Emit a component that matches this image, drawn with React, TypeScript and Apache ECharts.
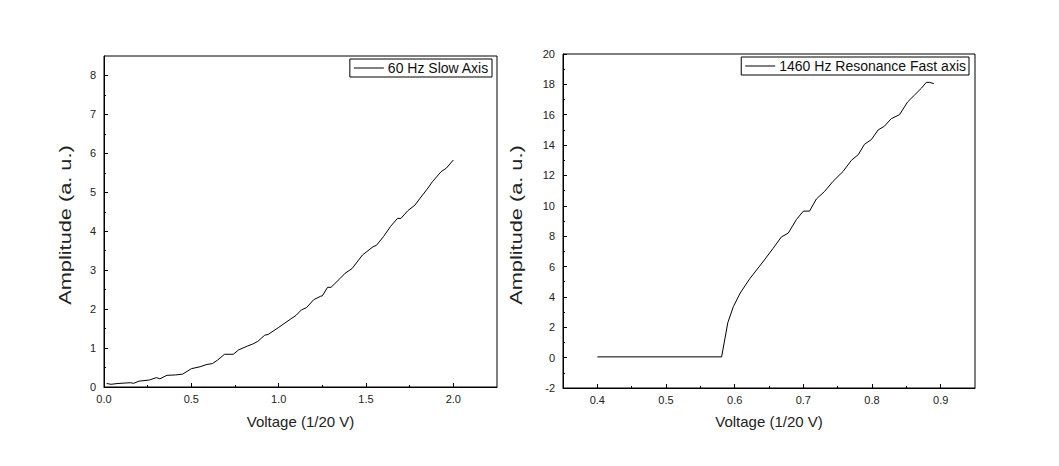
import React, { useEffect, useRef } from "react";
import * as echarts from "echarts";

const slowName = "60 Hz Slow Axis";
const fastName = "1460 Hz Resonance Fast axis";
const xTitle = "Voltage (1/20 V)";
const yTitle = "Amplitude (a. u.)";

const slowX = [0.015, 0.04, 0.08, 0.15, 0.17, 0.2, 0.26, 0.3, 0.32, 0.36, 0.41, 0.45, 0.5, 0.55, 0.59, 0.62, 0.65, 0.69, 0.74, 0.77, 0.82, 0.85, 0.88, 0.92, 0.94, 1.0, 1.07, 1.1, 1.13, 1.16, 1.2, 1.24, 1.25, 1.28, 1.3, 1.35, 1.38, 1.42, 1.48, 1.54, 1.56, 1.6, 1.64, 1.68, 1.7, 1.74, 1.78, 1.81, 1.85, 1.88, 1.93, 1.96, 2.0];
const slowY = [0.09, 0.07, 0.09, 0.11, 0.095, 0.15, 0.18, 0.24, 0.21, 0.3, 0.31, 0.33, 0.47, 0.52, 0.58, 0.6, 0.69, 0.84, 0.84, 0.95, 1.05, 1.1, 1.17, 1.33, 1.35, 1.53, 1.75, 1.84, 1.98, 2.04, 2.24, 2.33, 2.34, 2.56, 2.56, 2.78, 2.92, 3.04, 3.39, 3.6, 3.64, 3.86, 4.12, 4.33, 4.33, 4.53, 4.67, 4.85, 5.08, 5.27, 5.53, 5.62, 5.83];

const fastX = [0.4, 0.581, 0.59, 0.598, 0.608, 0.622, 0.641, 0.656, 0.668, 0.678, 0.69, 0.7, 0.709, 0.719, 0.731, 0.743, 0.758, 0.77, 0.78, 0.789, 0.799, 0.809, 0.818, 0.828, 0.84, 0.852, 0.862, 0.872, 0.879, 0.884, 0.89];
const fastY = [0.05, 0.05, 2.3, 3.35, 4.25, 5.2, 6.3, 7.2, 7.95, 8.2, 9.1, 9.65, 9.65, 10.45, 10.95, 11.6, 12.27, 13.0, 13.37, 14.05, 14.36, 15.0, 15.24, 15.74, 16.0, 16.85, 17.3, 17.75, 18.13, 18.13, 18.05];

const slowXTicks = [0, 0.5, 1.0, 1.5, 2.0];
const slowXMinor = [0.25, 0.75, 1.25, 1.75];
const slowYTicks = [0, 1, 2, 3, 4, 5, 6, 7, 8];
const slowYMinor = [0.5, 1.5, 2.5, 3.5, 4.5, 5.5, 6.5, 7.5];
const fastXTicks = [0.4, 0.5, 0.6, 0.7, 0.8, 0.9];
const fastXMinor = [0.45, 0.55, 0.65, 0.75, 0.85];
const fastYTicks = [-2, 0, 2, 4, 6, 8, 10, 12, 14, 16, 18, 20];
const fastYMinor = [-1, 1, 3, 5, 7, 9, 11, 13, 15, 17, 19];

const FONT = "Liberation Sans, Arial, sans-serif";
const TXT = "#222";

function mainAxis(
  kind: "x" | "y",
  grid: number,
  min: number,
  max: number,
  ticks: number[],
  decimals: number,
  nameGap: number
) {
  return {
    type: "value",
    gridIndex: grid,
    min,
    max,
    position: kind === "x" ? "bottom" : "left",
    name: kind === "x" ? xTitle : "",
    nameLocation: "middle",
    nameGap,
    nameTextStyle: { fontFamily: FONT, fontSize: 15, color: TXT },
    axisLine: { show: true, onZero: false, lineStyle: { color: "#000", width: 1 } },
    axisTick: { show: true, inside: true, length: 4, customValues: ticks, lineStyle: { color: "#000" } },
    axisLabel: {
      show: true,
      customValues: ticks,
      margin: kind === "x" ? 6 : 8,
      fontFamily: FONT,
      fontSize: 11,
      color: TXT,
      formatter: (v: number) => v.toFixed(decimals),
    },
    splitLine: { show: false },
  };
}

function minorAxis(kind: "x" | "y", grid: number, min: number, max: number, ticks: number[]) {
  return {
    type: "value",
    gridIndex: grid,
    min,
    max,
    position: kind === "x" ? "bottom" : "left",
    axisLine: { show: false, onZero: false },
    axisTick: { show: true, inside: true, length: 2, customValues: ticks, lineStyle: { color: "#000" } },
    axisLabel: { show: false },
    splitLine: { show: false },
  };
}

function yTitleText(x: number, y: number) {
  return {
    type: "text",
    x,
    y,
    rotation: Math.PI / 2,
    scaleX: 1.36,
    style: {
      text: yTitle,
      fontFamily: FONT,
      fontSize: 16,
      fill: TXT,
      textAlign: "center",
      textVerticalAlign: "middle",
    },
  };
}

export default function App() {
  const ref = useRef<HTMLDivElement>(null);
  useEffect(() => {
    document.body.style.margin = "0";
    const chart = echarts.init(ref.current!, undefined, { renderer: "svg" });
    const legendCommon = {
      orient: "horizontal",
      backgroundColor: "#fff",
      borderColor: "#000",
      borderWidth: 1,
      borderRadius: 0,
      padding: [2, 3, 2, 4],
      icon: "rect",
      itemWidth: 30,
      itemHeight: 1,
      itemGap: 4,
      textStyle: { fontFamily: FONT, fontSize: 14, color: "#111", padding: [0, 0, 0, -1] },
    };
    chart.setOption({
      animation: false,
      backgroundColor: "#fff",
      grid: [
        { left: 104, top: 56, width: 393, height: 331, show: true, borderColor: "#000", borderWidth: 1, backgroundColor: "transparent" },
        { left: 563, top: 54, width: 412, height: 334, show: true, borderColor: "#000", borderWidth: 1, backgroundColor: "transparent" },
      ],
      legend: [
        { ...legendCommon, data: [slowName], right: 1059 - 492, top: 59 },
        { ...legendCommon, data: [fastName], right: 1059 - 969, top: 57 },
      ],
      graphic: [yTitleText(66, 225), yTitleText(517, 225)],
      xAxis: [
        mainAxis("x", 0, 0, 2.25, slowXTicks, 1, 27),
        minorAxis("x", 0, 0, 2.25, slowXMinor),
        mainAxis("x", 1, 0.35, 0.95, fastXTicks, 1, 26),
        minorAxis("x", 1, 0.35, 0.95, fastXMinor),
      ],
      yAxis: [
        mainAxis("y", 0, 0, 8.5, slowYTicks, 0, 30),
        minorAxis("y", 0, 0, 8.5, slowYMinor),
        mainAxis("y", 1, -2, 20, fastYTicks, 0, 38),
        minorAxis("y", 1, -2, 20, fastYMinor),
      ],
      series: [
        {
          name: slowName,
          type: "line",
          xAxisIndex: 0,
          yAxisIndex: 0,
          symbol: "none",
          showSymbol: false,
          lineStyle: { color: "#000", width: 1 },
          itemStyle: { color: "#000" },
          data: slowX.map((x, i) => [x, slowY[i]]),
        },
        {
          name: fastName,
          type: "line",
          xAxisIndex: 2,
          yAxisIndex: 2,
          symbol: "none",
          showSymbol: false,
          lineStyle: { color: "#000", width: 1 },
          itemStyle: { color: "#000" },
          data: fastX.map((x, i) => [x, fastY[i]]),
        },
      ],
    });
    return () => chart.dispose();
  }, []);
  return <div ref={ref} style={{ width: 1059, height: 466 }} />;
}
